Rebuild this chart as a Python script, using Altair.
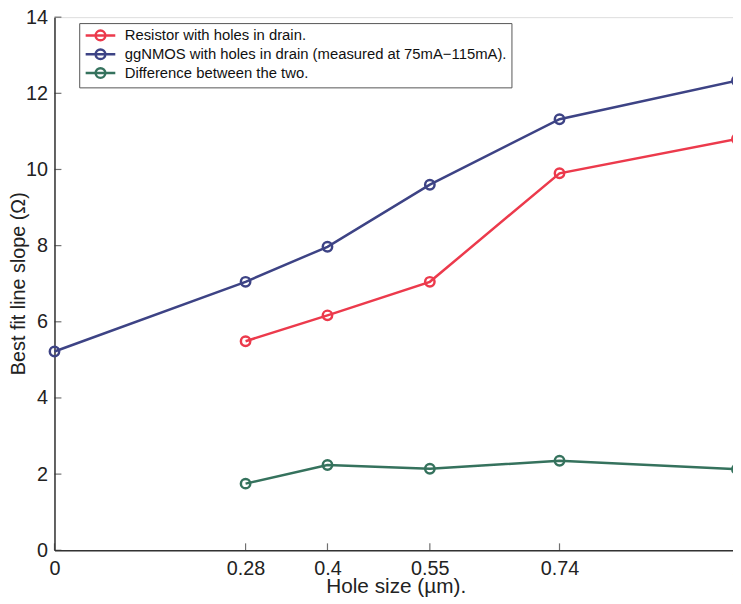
import altair as alt
import pandas as pd

hole_size = [0.0, 0.28, 0.4, 0.55, 0.74, 1.0]
ggnmos = [5.22, 7.05, 7.97, 9.6, 11.32, 12.33]
resistor_x = [0.28, 0.4, 0.55, 0.74, 1.0]
resistor = [5.49, 6.17, 7.05, 9.9, 10.8]
difference = [1.75, 2.24, 2.14, 2.35, 2.13]

series_names = [
    "Resistor with holes in drain.",
    "ggNMOS with holes in drain (measured at 75mA\u2212115mA).",
    "Difference between the two.",
]
series_colors = ["#ec3a4c", "#3d4385", "#35725d"]

x_ticks = [0, 0.28, 0.4, 0.55, 0.74, 1]
y_ticks = [0, 2, 4, 6, 8, 10, 12, 14]

rows = []
for x, v in zip(resistor_x, resistor):
    rows.append({"x": x, "y": v, "s": series_names[0]})
for x, v in zip(hole_size, ggnmos):
    rows.append({"x": x, "y": v, "s": series_names[1]})
for x, v in zip(resistor_x, difference):
    rows.append({"x": x, "y": v, "s": series_names[2]})
df = pd.DataFrame(rows)

FONT = "Liberation Sans, Arial, sans-serif"
PLOT_W = 686

xscale = alt.Scale(domain=[0, 1], range=[0, 690], nice=False, zero=False)
yscale = alt.Scale(domain=[0, 14], nice=False)

# legend glyph: short line with a circle marker (scaled by r = sqrt(size)/2 = 7)
sym = "M-2.14,0H2.14M-0.7,0A0.7,0.7 0 1,1 0.7,0A0.7,0.7 0 1,1 -0.7,0"

lines = alt.Chart(df).mark_line(
    strokeWidth=2.5,
    point=alt.OverlayMarkDef(filled=False, size=90, strokeWidth=2.5),
).encode(
    x=alt.X("x:Q", scale=xscale, axis=alt.Axis(
        values=x_ticks, title="Hole size (\u00b5m).", grid=False,
        tickSize=0, labelPadding=8, labelFontSize=20, labelFont=FONT,
        labelColor="#222", titleFont=FONT, titleFontSize=21, titleFontWeight="normal",
        titleColor="#222", titleBaseline="alphabetic", titleY=43,
        domainColor="#333", domainWidth=1.5, labelFlush=False,
        format="~g", labelOverlap=False)),
    y=alt.Y("y:Q", scale=yscale, axis=alt.Axis(
        values=y_ticks, title="Best fit line slope (\u03a9)", grid=False,
        tickSize=0, labelPadding=7, labelFontSize=20, labelFont=FONT,
        labelColor="#222", titleFont=FONT, titleFontSize=20,
        titleFontWeight="normal", titleColor="#222",
        titleX=-36, titleY=269, titleAngle=-90, titleAlign="center", titleBaseline="middle",
        domainColor="#333", domainWidth=1.5, labelFlush=False)),
    color=alt.Color("s:N", scale=alt.Scale(domain=series_names, range=series_colors),
                    legend=alt.Legend(
                        title=None, orient="none", legendX=25, legendY=6,
                        symbolType=sym, symbolSize=196, symbolStrokeWidth=2.5,
                        symbolOffset=9, labelOffset=16,
                        labelFont=FONT, labelFontSize=15,
                        labelColor="#111", strokeColor="#555", fillColor="white",
                        padding=4, rowPadding=-2, labelLimit=600)),
)

xt = pd.DataFrame({"x": x_ticks})
yt = pd.DataFrame({"y": y_ticks})

x_tick_marks = alt.Chart(xt).mark_tick(color="#333", size=7, thickness=1.2, yOffset=-3.5, orient="vertical").encode(
    x=alt.X("x:Q", scale=xscale), y=alt.datum(0, scale=yscale))
y_tick_marks = alt.Chart(yt).mark_tick(color="#333", size=7, thickness=1.2, xOffset=3.5, orient="horizontal").encode(
    y=alt.Y("y:Q", scale=yscale), x=alt.datum(0, scale=xscale))

chart = alt.layer(lines, x_tick_marks, y_tick_marks).properties(
    width=PLOT_W, height=539,
    autosize=alt.AutoSizeParams(type="none"),
    padding={"left": 47, "top": 6, "right": 0, "bottom": 45},
).configure_view(stroke=None).configure(background="white")

chart.save("out.html", embed_options={"renderer": "svg", "actions": False})
